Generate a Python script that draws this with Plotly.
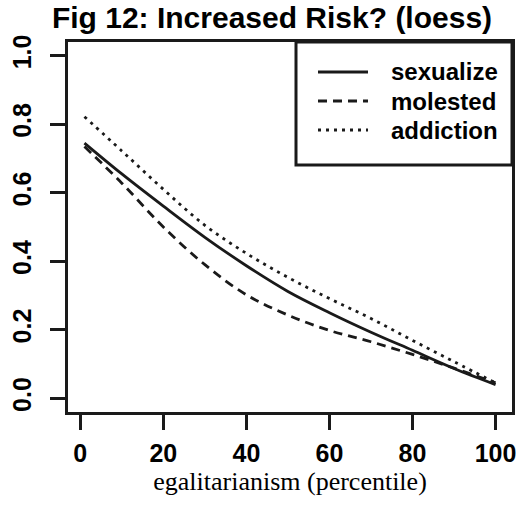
import plotly.graph_objects as go

# Data (loess curves)
x_vals = [1, 10, 20, 30, 40, 50, 60, 70, 80, 90, 100]
sexualize = [0.745, 0.655, 0.561, 0.47, 0.387, 0.312, 0.25, 0.193, 0.14, 0.087, 0.04]
molested = [0.735, 0.628, 0.50, 0.39, 0.302, 0.243, 0.198, 0.165, 0.128, 0.088, 0.045]
addiction = [0.822, 0.722, 0.61, 0.505, 0.423, 0.353, 0.291, 0.233, 0.169, 0.107, 0.045]

series_names = ["sexualize", "molested", "addiction"]
x_ticks = [0, 20, 40, 60, 80, 100]
y_ticks = [0.0, 0.2, 0.4, 0.6, 0.8, 1.0]
y_tick_labels = ["0.0", "0.2", "0.4", "0.6", "0.8", "1.0"]

title_text = "Fig 12: Increased Risk? (loess)"
x_title = "egalitarianism (percentile)"

ink = "#1a1a1a"
dashes = ["solid", "9px,6px", "3px,5px"]
sans = "Liberation Sans, Arial"

fig = go.Figure()
for name, ys, dash in zip(series_names, [sexualize, molested, addiction], dashes):
    fig.add_trace(go.Scatter(
        x=x_vals, y=ys, mode="lines", name=name, showlegend=False,
        line=dict(color=ink, width=2.8, dash=dash, shape="spline", smoothing=1.0),
    ))

L, R, T, B = 68, 6, 42, 98
W, H = 518, 510
PW, PH = W - L - R, H - T - B

def px(xp):
    return (xp - L) / PW

def py(yp):
    return (H - B - yp) / PH

fig.update_layout(
    width=W, height=H,
    margin=dict(l=L, r=R, t=T, b=B, pad=0),
    paper_bgcolor="white", plot_bgcolor="white",
    title=dict(text=title_text, x=272 / W, xref="container", xanchor="center",
               y=1 - 17 / H, yref="container", yanchor="middle", pad=dict(t=0, b=0),
               font=dict(family=sans, size=30, color="black", weight="bold")),
    showlegend=False,
    xaxis=dict(range=[-2.96, 103.96], tickvals=x_ticks, ticks="outside", ticklen=15,
               tickwidth=3, tickcolor=ink, showgrid=False, zeroline=False, automargin=False,
               showline=True, linewidth=3, linecolor=ink, mirror=True, ticklabelstandoff=2,
               tickfont=dict(family=sans, size=25, color="black", weight="bold"),
               title=dict(text=x_title, standoff=0,
                          font=dict(family="Liberation Serif, Times New Roman", size=26, color="black"))),
    yaxis=dict(range=[-0.04, 1.04], tickvals=y_ticks, ticktext=y_tick_labels, ticks="outside",
               ticklen=15, tickwidth=3, tickcolor=ink, showgrid=False, zeroline=False, automargin=False,
               showline=True, linewidth=3, linecolor=ink, mirror=True, tickangle=-90,
               ticklabelstandoff=9,
               tickfont=dict(family=sans, size=25, color="black", weight="bold")),
)

# legend box (thick left/bottom edge as in the reference)
fig.add_shape(type="rect", xref="paper", yref="paper",
              x0=px(296), x1=1.0, y0=py(165), y1=1.0,
              line=dict(color=ink, width=3))

# legend entries
legend_rows = [72, 101, 130]
for name, dash, yrow in zip(series_names, dashes, legend_rows):
    fig.add_shape(type="line", xref="paper", yref="paper",
                  x0=px(318), x1=px(368), y0=py(yrow), y1=py(yrow),
                  line=dict(color=ink, width=2.8, dash=dash))
    fig.add_annotation(text=name, xref="paper", yref="paper", x=px(389), y=py(yrow),
                       xanchor="left", yanchor="middle", showarrow=False,
                       font=dict(family=sans, size=24, color="black", weight="bold"))

fig.write_html("out.html", config={"displayModeBar": False},
               post_script="document.body.style.margin='0';document.body.style.padding='0';"
                           "document.documentElement.style.overflow='hidden';")
